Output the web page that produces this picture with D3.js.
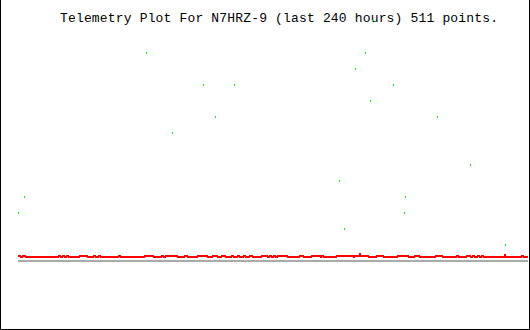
<!DOCTYPE html>
<html>
<head>
<meta charset="utf-8">
<script src="https://cdn.jsdelivr.net/npm/d3@7"></script>
<style>
  body { margin: 0; background: #fff; }
  svg { display: block; }
</style>
</head>
<body>
<svg width="530" height="330"></svg>
<script>
// telemetry data, raw counts (511 samples)
var nPoints = 511;
var titleText = "Telemetry Plot For N7HRZ-9 (last 240 hours) 511 points.";

// channel 1 (red): baseline level, then [fromIndex, toIndex, value] runs that differ from it
var redBase = 4;
var redRuns = [
  [0, 2, 5], [5, 7, 5], [41, 42, 5], [45, 46, 5], [49, 50, 5], [62, 69, 5],
  [76, 77, 5], [81, 82, 5], [101, 102, 5], [127, 135, 5], [144, 145, 5],
  [148, 159, 5], [167, 169, 5], [180, 189, 5], [195, 199, 5], [204, 207, 5],
  [214, 215, 5], [220, 221, 5], [226, 227, 5], [232, 234, 5], [244, 249, 5],
  [252, 253, 5], [256, 257, 5], [260, 269, 5], [282, 285, 5], [294, 302, 5],
  [304, 305, 5], [319, 335, 5], [337, 341, 5], [342, 342, 7], [343, 350, 5],
  [359, 365, 5], [380, 390, 5], [397, 401, 5], [418, 424, 5], [439, 440, 5],
  [449, 452, 5], [455, 456, 5], [460, 461, 5], [464, 465, 5], [487, 487, 6],
  [504, 505, 5]
];

// channel 2 (green): sample index and value of the scattered readings
var greenIdx = [0, 6, 128, 154, 185, 197, 216, 321, 326, 337, 347, 352, 354, 375, 386, 387, 419, 452, 487];
var greenVal = [48, 64, 208, 128, 176, 144, 176, 80, 32, 192, 208, 160, 240, 176, 48, 64, 144, 96, 16];

// channel 3 (gray): flat
var grayVal = 0;

function main() {
  var svg = d3.select("svg");

  var xScale = d3.scaleLinear().domain([0, nPoints - 1]).range([18, 528]);
  var yScale = d3.scaleLinear().domain([0, 208]).range([261, 53]);

  // border (no top edge)
  svg.append("path")
    .attr("d", "M0.5,0V329.5H529.5V0")
    .attr("fill", "none")
    .attr("stroke", "#000")
    .attr("stroke-width", 1);

  svg.append("text")
    .attr("x", 60)
    .attr("y", 22)
    .attr("font-family", "'Liberation Mono', 'DejaVu Sans Mono', monospace")
    .attr("font-size", "13px")
    .attr("textLength", 438)
    .attr("lengthAdjust", "spacing")
    .attr("fill", "#000")
    .text(titleText);

  // expand red runs into one value per sample
  var red = d3.range(nPoints).map(function() { return redBase; });
  redRuns.forEach(function(r) {
    for (var i = r[0]; i <= r[1]; i++) red[i] = r[2];
  });

  var gray = d3.range(nPoints).map(function() { return grayVal; });

  var line = d3.line()
    .x(function(d, i) { return xScale(i); })
    .y(function(d) { return yScale(d); });

  svg.append("path")
    .datum(gray)
    .attr("d", line)
    .attr("fill", "none")
    .attr("stroke", "#aaaaaa")
    .attr("stroke-width", 2)
    .attr("shape-rendering", "crispEdges");

  svg.append("path")
    .datum(red)
    .attr("d", line)
    .attr("fill", "none")
    .attr("stroke", "#ff0000")
    .attr("stroke-width", 2)
    .attr("shape-rendering", "crispEdges");

  svg.selectAll(".dot")
    .data(greenIdx)
    .enter().append("rect")
    .attr("class", "dot")
    .attr("x", function(d) { return xScale(d); })
    .attr("y", function(d, i) { return yScale(greenVal[i]) - 1; })
    .attr("width", 1)
    .attr("height", 2)
    .attr("fill", "#00ff00")
    .attr("shape-rendering", "crispEdges");
}

main();
</script>
</body>
</html>
